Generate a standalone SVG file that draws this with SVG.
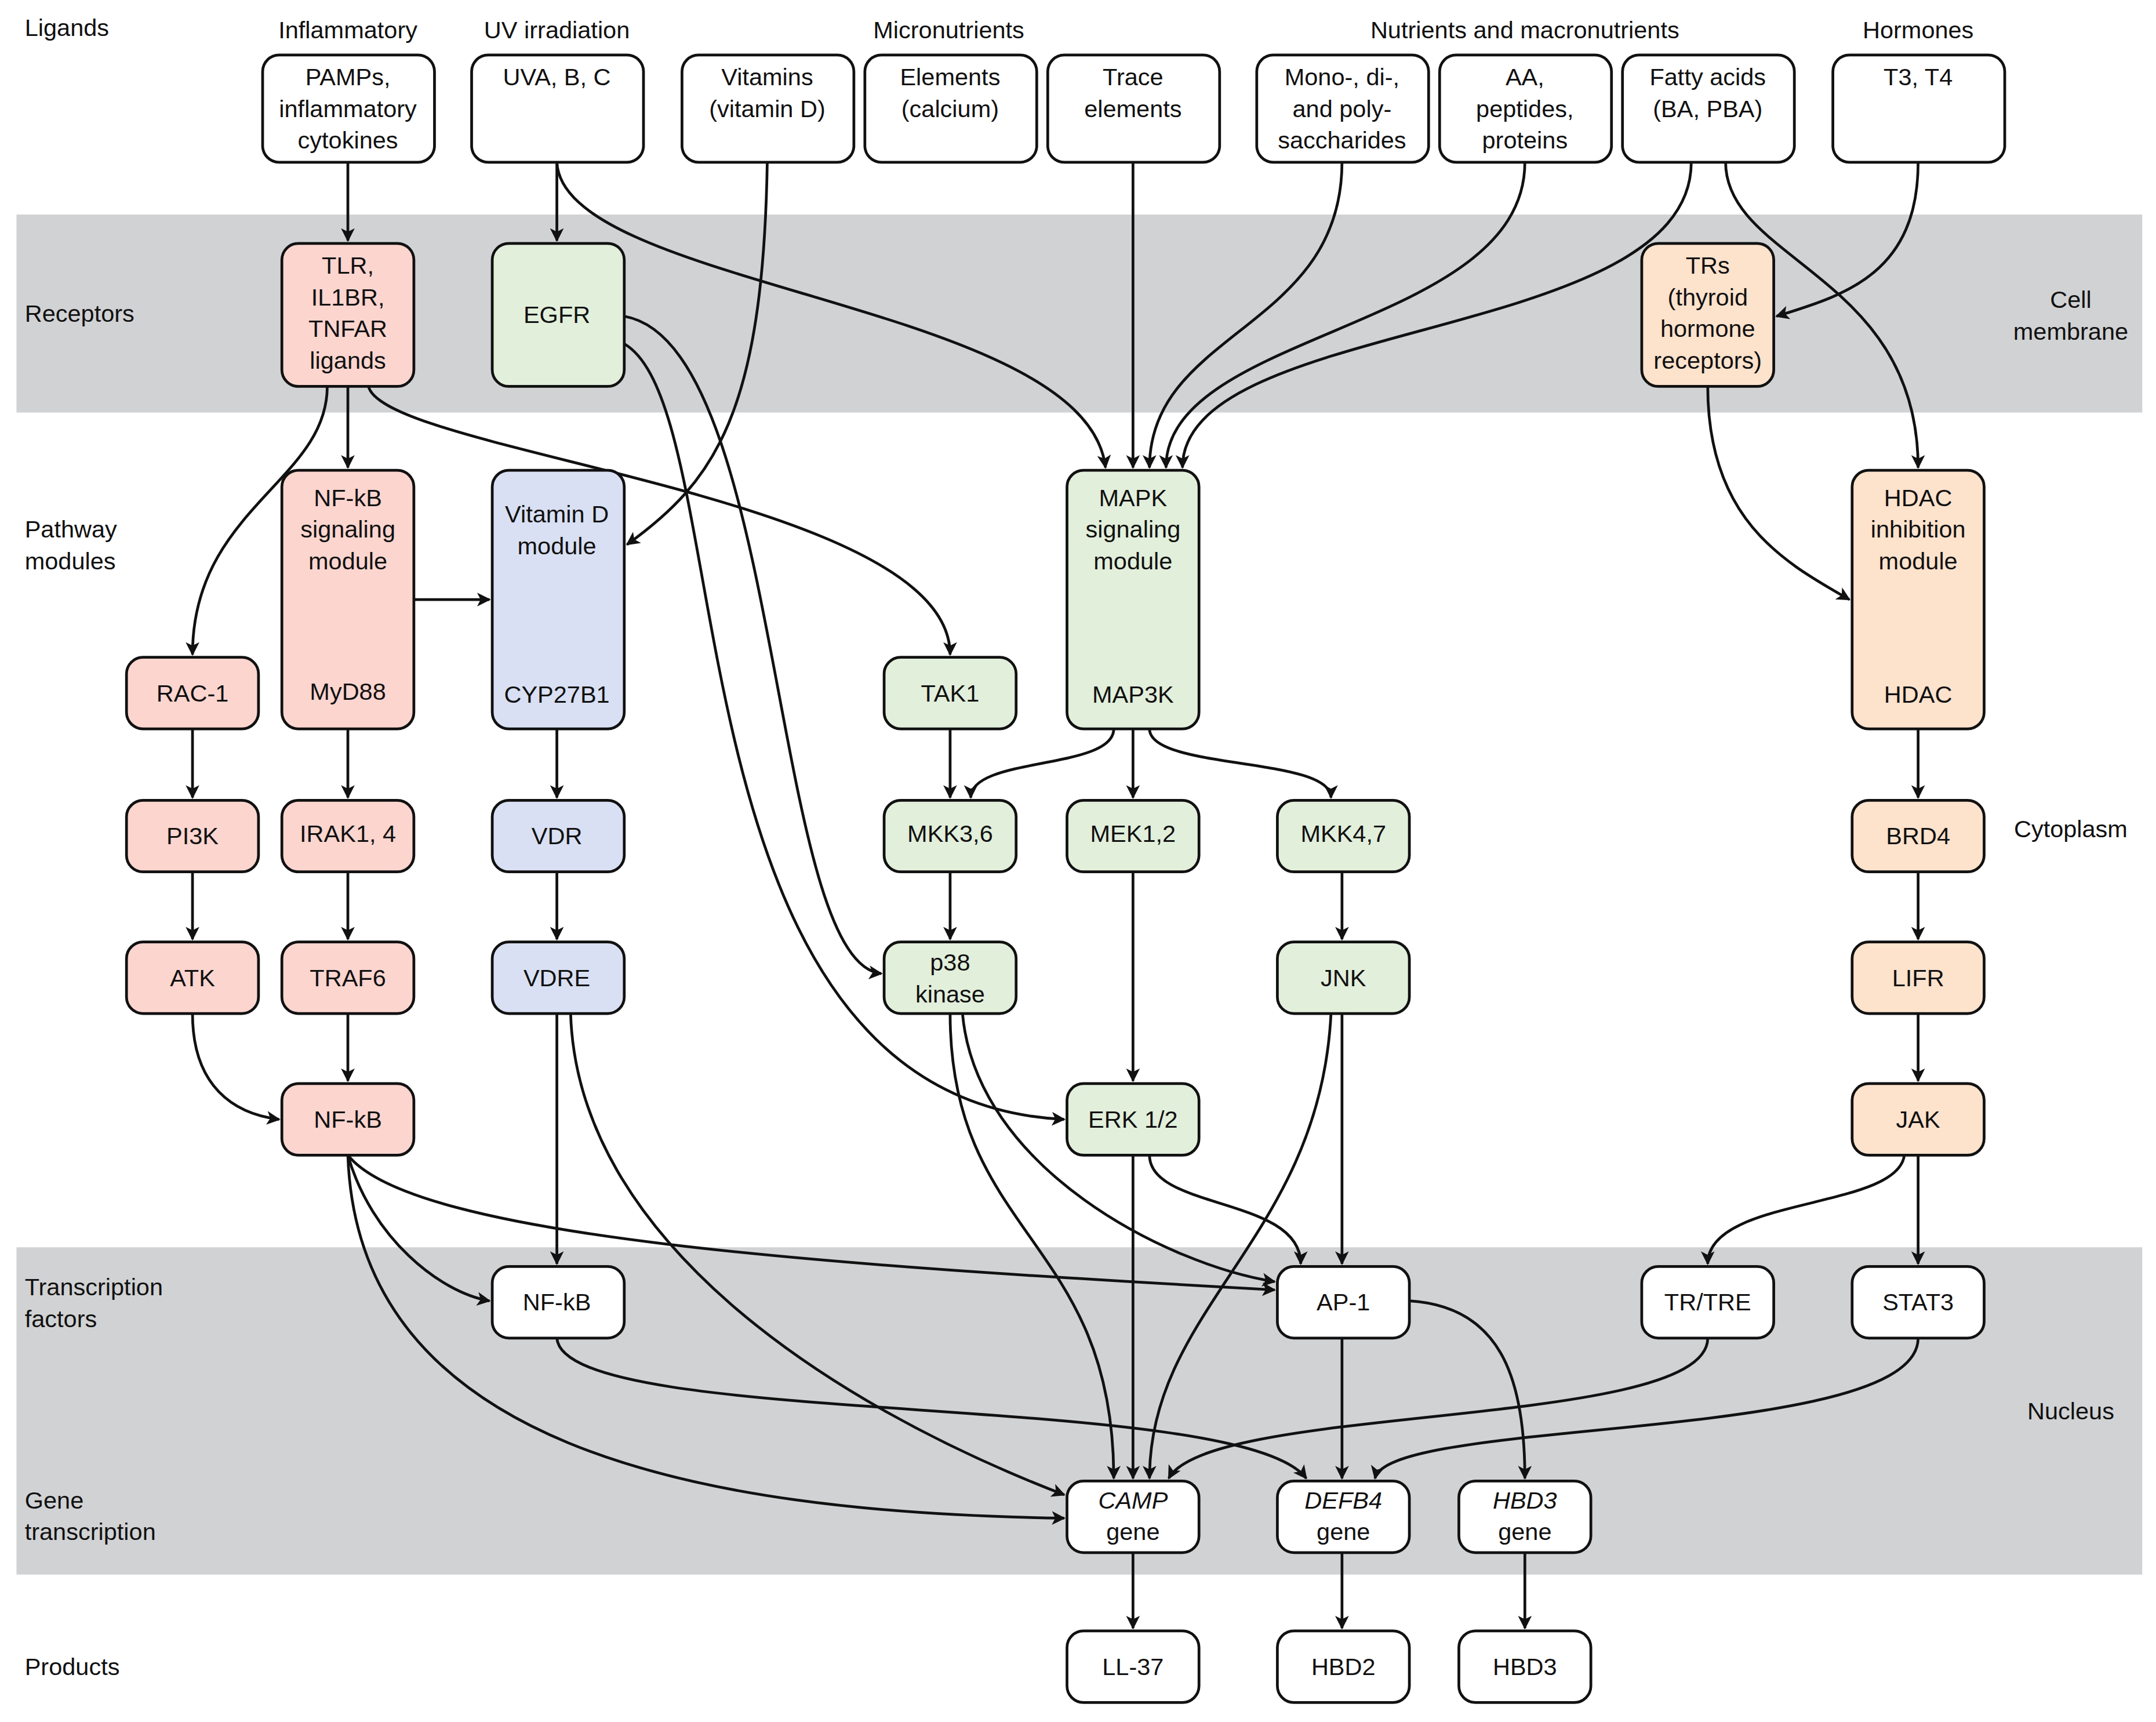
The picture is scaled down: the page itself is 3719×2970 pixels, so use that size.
<svg xmlns="http://www.w3.org/2000/svg" width="3719" height="2970" viewBox="0 0 3719 2970">
<style>
text{font-family:"Liberation Sans",Arial,sans-serif;font-size:17.5px;fill:#111}
.c{text-anchor:middle}
.n rect{stroke:#111;stroke-width:2;fill:#fff}
.pk rect{fill:#fcd5cf}.gr rect{fill:#e2efdb}.bl rect{fill:#d9e0f3}.or rect{fill:#fde2cc}
#conn path{fill:none;stroke:#111;stroke-width:2;marker-end:url(#a)}
</style>
<defs><marker id="a" viewBox="0 0 10 10" refX="9" refY="5" markerWidth="5" markerHeight="6" orient="auto"><path d="M0,0 L10,5 L0,10 L2.5,5 z" fill="#111"/></marker></defs>
<rect width="3719" height="2970" fill="#fff"/>
<g transform="scale(2.3718)">
<g id="bands"><rect x="12" y="156" width="1546" height="144" fill="#d1d2d4"/><rect x="12" y="907" width="1546" height="238" fill="#d1d2d4"/></g>
<g id="labels">
<text x="18" y="26">Ligands</text><text x="18" y="234">Receptors</text>
<text x="18" y="391">Pathway</text><text x="18" y="414">modules</text>
<text x="18" y="942">Transcription</text><text x="18" y="965">factors</text>
<text x="18" y="1097">Gene</text><text x="18" y="1120">transcription</text>
<text x="18" y="1218">Products</text>
<text class="c" x="1506" y="224">Cell</text><text class="c" x="1506" y="247">membrane</text>
<text class="c" x="1506" y="609">Cytoplasm</text><text class="c" x="1506" y="1032">Nucleus</text>
<text class="c" x="253" y="28">Inflammatory</text><text class="c" x="405" y="28">UV irradiation</text>
<text class="c" x="690" y="28">Micronutrients</text><text class="c" x="1109" y="28">Nutrients and macronutrients</text>
<text class="c" x="1395" y="28">Hormones</text>
</g>
<g id="conn">
<path d="M253,118 V175"/><path d="M405,118 V175"/>
<path d="M405,118 C410,210 790,220 804,340"/>
<path d="M558,118 C555,300 520,350 456,396"/>
<path d="M824,118 V340"/>
<path d="M976,118 C976,240 836,240 836,340"/>
<path d="M1109,118 C1109,240 848,240 848,340"/>
<path d="M1230,118 C1230,250 860,230 860,340"/>
<path d="M1255,118 C1255,190 1395,200 1395,340"/>
<path d="M1395,118 C1395,200 1340,215 1292,230"/>
<path d="M1242,281 C1242,380 1300,410 1345,436"/>
<path d="M253,281 V340"/>
<path d="M238,281 C238,350 140,370 140,476"/>
<path d="M268,281 C280,330 691,360 691,476"/>
<path d="M454,230 C570,250 560,700 641,708"/>
<path d="M454,250 C540,300 480,800 774,814"/>
<path d="M301,436 H356"/>
<path d="M253,530 V580"/><path d="M253,634 V683"/><path d="M253,737 V786"/>
<path d="M140,530 V580"/><path d="M140,634 V683"/>
<path d="M140,737 C140,790 170,810 203,814"/>
<path d="M405,530 V580"/><path d="M405,634 V683"/><path d="M405,737 V919"/>
<path d="M415,737 C420,900 600,1020 774,1087"/>
<path d="M810,530 C810,560 706,550 706,580"/>
<path d="M824,530 V580"/>
<path d="M836,530 C836,560 968,550 968,580"/>
<path d="M691,530 V580"/><path d="M691,634 V683"/>
<path d="M976,634 V683"/><path d="M824,634 V786"/>
<path d="M691,737 C691,900 810,900 810,1075"/>
<path d="M700,737 C710,850 850,920 927,932"/>
<path d="M824,840 V1075"/>
<path d="M836,840 C836,880 946,870 946,919"/>
<path d="M976,737 V919"/>
<path d="M968,737 C960,900 836,950 836,1075"/>
<path d="M253,840 C300,900 600,920 927,938"/>
<path d="M253,840 C270,900 320,940 356,946"/>
<path d="M253,840 C260,1050 500,1100 774,1104"/>
<path d="M405,973 C410,1040 900,1010 950,1075"/>
<path d="M976,973 V1075"/>
<path d="M1025,946 C1090,950 1109,1000 1109,1075"/>
<path d="M1242,973 C1242,1040 880,1020 850,1075"/>
<path d="M1395,973 C1395,1050 1010,1030 1000,1075"/>
<path d="M1395,840 V919"/>
<path d="M1385,840 C1380,880 1242,870 1242,919"/>
<path d="M1395,530 V580"/><path d="M1395,634 V683"/><path d="M1395,737 V786"/>
<path d="M824,1129 V1184"/><path d="M976,1129 V1184"/><path d="M1109,1129 V1184"/>
</g>
<g class="n" id="n_pamps"><rect x="191" y="40" width="125" height="78" rx="12"/><text class="c" x="253" y="62">PAMPs,</text><text class="c" x="253" y="85">inflammatory</text><text class="c" x="253" y="108">cytokines</text></g>
<g class="n" id="n_uva"><rect x="343" y="40" width="125" height="78" rx="12"/><text class="c" x="405" y="62">UVA, B, C</text></g>
<g class="n" id="n_vit"><rect x="496" y="40" width="125" height="78" rx="12"/><text class="c" x="558" y="62">Vitamins</text><text class="c" x="558" y="85">(vitamin D)</text></g>
<g class="n" id="n_el"><rect x="629" y="40" width="125" height="78" rx="12"/><text class="c" x="691" y="62">Elements</text><text class="c" x="691" y="85">(calcium)</text></g>
<g class="n" id="n_tr"><rect x="762" y="40" width="125" height="78" rx="12"/><text class="c" x="824" y="62">Trace</text><text class="c" x="824" y="85">elements</text></g>
<g class="n" id="n_mono"><rect x="914" y="40" width="125" height="78" rx="12"/><text class="c" x="976" y="62">Mono-, di-,</text><text class="c" x="976" y="85">and poly-</text><text class="c" x="976" y="108">saccharides</text></g>
<g class="n" id="n_aa"><rect x="1047" y="40" width="125" height="78" rx="12"/><text class="c" x="1109" y="62">AA,</text><text class="c" x="1109" y="85">peptides,</text><text class="c" x="1109" y="108">proteins</text></g>
<g class="n" id="n_fa"><rect x="1180" y="40" width="125" height="78" rx="12"/><text class="c" x="1242" y="62">Fatty acids</text><text class="c" x="1242" y="85">(BA, PBA)</text></g>
<g class="n" id="n_t3"><rect x="1333" y="40" width="125" height="78" rx="12"/><text class="c" x="1395" y="62">T3, T4</text></g>
<g class="n pk" id="n_tlr"><rect x="205" y="177" width="96" height="104" rx="12"/><text class="c" x="253" y="199">TLR,</text><text class="c" x="253" y="222">IL1BR,</text><text class="c" x="253" y="245">TNFAR</text><text class="c" x="253" y="268">ligands</text></g>
<g class="n gr" id="n_egfr"><rect x="358" y="177" width="96" height="104" rx="12"/><text class="c" x="405" y="235">EGFR</text></g>
<g class="n or" id="n_trs"><rect x="1194" y="177" width="96" height="104" rx="12"/><text class="c" x="1242" y="199">TRs</text><text class="c" x="1242" y="222">(thyroid</text><text class="c" x="1242" y="245">hormone</text><text class="c" x="1242" y="268">receptors)</text></g>
<g class="n pk" id="n_nfkbm"><rect x="205" y="342" width="96" height="188" rx="12"/><text class="c" x="253" y="368">NF-kB</text><text class="c" x="253" y="391">signaling</text><text class="c" x="253" y="414">module</text><text class="c" x="253" y="509">MyD88</text></g>
<g class="n bl" id="n_vitd"><rect x="358" y="342" width="96" height="188" rx="12"/><text class="c" x="405" y="380">Vitamin D</text><text class="c" x="405" y="403">module</text><text class="c" x="405" y="511">CYP27B1</text></g>
<g class="n gr" id="n_mapk"><rect x="776" y="342" width="96" height="188" rx="12"/><text class="c" x="824" y="368">MAPK</text><text class="c" x="824" y="391">signaling</text><text class="c" x="824" y="414">module</text><text class="c" x="824" y="511">MAP3K</text></g>
<g class="n or" id="n_hdac"><rect x="1347" y="342" width="96" height="188" rx="12"/><text class="c" x="1395" y="368">HDAC</text><text class="c" x="1395" y="391">inhibition</text><text class="c" x="1395" y="414">module</text><text class="c" x="1395" y="511">HDAC</text></g>
<g class="n pk" id="n_rac"><rect x="92" y="478" width="96" height="52" rx="12"/><text class="c" x="140" y="510">RAC-1</text></g>
<g class="n gr" id="n_tak"><rect x="643" y="478" width="96" height="52" rx="12"/><text class="c" x="691" y="510">TAK1</text></g>
<g class="n pk" id="n_pi3k"><rect x="92" y="582" width="96" height="52" rx="12"/><text class="c" x="140" y="614">PI3K</text></g>
<g class="n pk" id="n_irak"><rect x="205" y="582" width="96" height="52" rx="12"/><text class="c" x="253" y="612">IRAK1, 4</text></g>
<g class="n bl" id="n_vdr"><rect x="358" y="582" width="96" height="52" rx="12"/><text class="c" x="405" y="614">VDR</text></g>
<g class="n gr" id="n_mkk36"><rect x="643" y="582" width="96" height="52" rx="12"/><text class="c" x="691" y="612">MKK3,6</text></g>
<g class="n gr" id="n_mek"><rect x="776" y="582" width="96" height="52" rx="12"/><text class="c" x="824" y="612">MEK1,2</text></g>
<g class="n gr" id="n_mkk47"><rect x="929" y="582" width="96" height="52" rx="12"/><text class="c" x="977" y="612">MKK4,7</text></g>
<g class="n or" id="n_brd4"><rect x="1347" y="582" width="96" height="52" rx="12"/><text class="c" x="1395" y="614">BRD4</text></g>
<g class="n pk" id="n_atk"><rect x="92" y="685" width="96" height="52" rx="12"/><text class="c" x="140" y="717">ATK</text></g>
<g class="n pk" id="n_traf"><rect x="205" y="685" width="96" height="52" rx="12"/><text class="c" x="253" y="717">TRAF6</text></g>
<g class="n bl" id="n_vdre"><rect x="358" y="685" width="96" height="52" rx="12"/><text class="c" x="405" y="717">VDRE</text></g>
<g class="n gr" id="n_p38"><rect x="643" y="685" width="96" height="52" rx="12"/><text class="c" x="691" y="706">p38</text><text class="c" x="691" y="729">kinase</text></g>
<g class="n gr" id="n_jnk"><rect x="929" y="685" width="96" height="52" rx="12"/><text class="c" x="977" y="717">JNK</text></g>
<g class="n or" id="n_lifr"><rect x="1347" y="685" width="96" height="52" rx="12"/><text class="c" x="1395" y="717">LIFR</text></g>
<g class="n pk" id="n_nfkb"><rect x="205" y="788" width="96" height="52" rx="12"/><text class="c" x="253" y="820">NF-kB</text></g>
<g class="n gr" id="n_erk"><rect x="776" y="788" width="96" height="52" rx="12"/><text class="c" x="824" y="820">ERK 1/2</text></g>
<g class="n or" id="n_jak"><rect x="1347" y="788" width="96" height="52" rx="12"/><text class="c" x="1395" y="820">JAK</text></g>
<g class="n" id="n_nfkbtf"><rect x="358" y="921" width="96" height="52" rx="12"/><text class="c" x="405" y="953">NF-kB</text></g>
<g class="n" id="n_ap1"><rect x="929" y="921" width="96" height="52" rx="12"/><text class="c" x="977" y="953">AP-1</text></g>
<g class="n" id="n_trtre"><rect x="1194" y="921" width="96" height="52" rx="12"/><text class="c" x="1242" y="953">TR/TRE</text></g>
<g class="n" id="n_stat3"><rect x="1347" y="921" width="96" height="52" rx="12"/><text class="c" x="1395" y="953">STAT3</text></g>
<g class="n" id="n_camp"><rect x="776" y="1077" width="96" height="52" rx="12"/><text class="c" x="824" y="1097" font-style="italic">CAMP</text><text class="c" x="824" y="1120">gene</text></g>
<g class="n" id="n_defb4"><rect x="929" y="1077" width="96" height="52" rx="12"/><text class="c" x="977" y="1097" font-style="italic">DEFB4</text><text class="c" x="977" y="1120">gene</text></g>
<g class="n" id="n_hbd3g"><rect x="1061" y="1077" width="96" height="52" rx="12"/><text class="c" x="1109" y="1097" font-style="italic">HBD3</text><text class="c" x="1109" y="1120">gene</text></g>
<g class="n" id="n_ll37"><rect x="776" y="1186" width="96" height="52" rx="12"/><text class="c" x="824" y="1218">LL-37</text></g>
<g class="n" id="n_hbd2"><rect x="929" y="1186" width="96" height="52" rx="12"/><text class="c" x="977" y="1218">HBD2</text></g>
<g class="n" id="n_hbd3"><rect x="1061" y="1186" width="96" height="52" rx="12"/><text class="c" x="1109" y="1218">HBD3</text></g>
</g>
</svg>
